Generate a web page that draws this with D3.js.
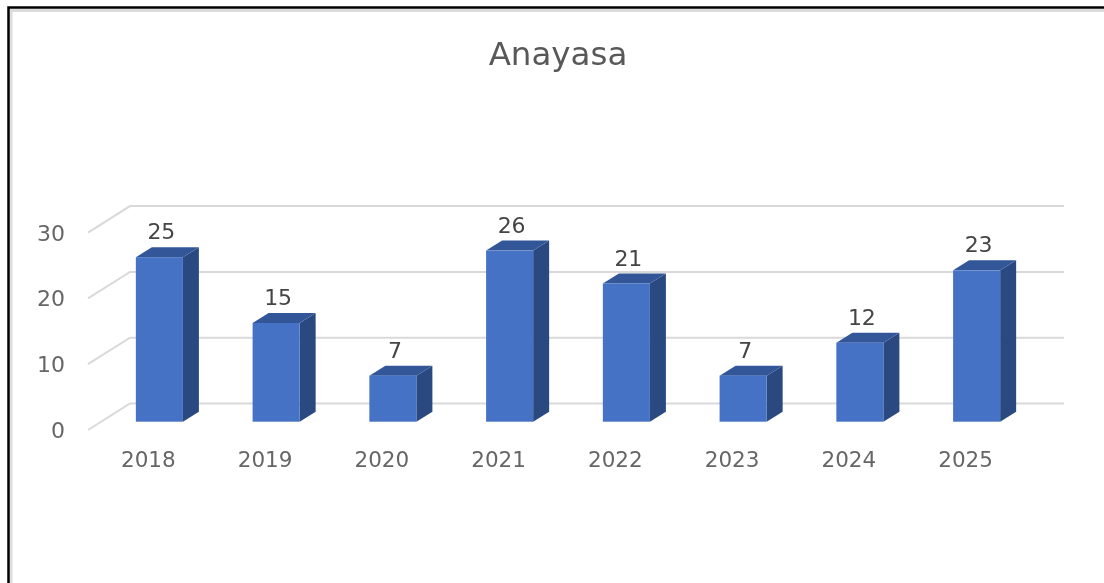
<!DOCTYPE html>
<html>
<head>
<meta charset="utf-8">
<style>
    html, body { margin: 0; padding: 0; background: #fff; overflow: hidden; }
    svg { display: block; }
    text { font-family: "DejaVu Sans", sans-serif; }
    .y-axis text { font-size: 22px; fill: #666; }
    .x-axis text { font-size: 21.5px; fill: #666; }
    .value { font-size: 22px; fill: #444; text-anchor: middle; }
    .title { font-size: 32.5px; fill: #595959; text-anchor: middle; }
</style>
<script src="https://cdn.jsdelivr.net/npm/d3@7"></script>
</head>
<body>
<script>
    // values
    const years = ["2018", "2019", "2020", "2021", "2022", "2023", "2024", "2025"];
    const counts = [25, 15, 7, 26, 21, 7, 12, 23];
    const yTicks = [0, 10, 20, 30];

    const width = 1104, height = 583;

    // oblique 3d offsets: floor depth, bar position in it, bar depth
    const wall = {dx: 42, dy: -26.5};
    const barPos = {dx: 13, dy: -8.3};
    const barDepth = {dx: 16, dy: -10};

    const x = d3.scaleBand().domain(years).range([88, 1022])
        .paddingInner(0.597).paddingOuter(0.2985);
    const y = d3.scaleLinear().domain([0, 30]).range([430, 232.6]);

    const svg = d3.select("body").append("svg")
        .attr("width", width)
        .attr("height", height);

    const defs = svg.append("defs");
    defs.append("filter").attr("id", "soft")
        .append("feGaussianBlur").attr("stdDeviation", 0.45);

    // frame of the screenshot
    svg.append("path")
        .attr("d", `M11,${height}V10.5H${width}`)
        .attr("fill", "none").attr("stroke", "#dcdcdc").attr("stroke-width", 3);
    svg.append("path")
        .attr("d", `M8.5,${height}V7.5H${width}`)
        .attr("fill", "none").attr("stroke", "#000").attr("stroke-width", 2.5);

    const chart = svg.append("g").attr("filter", "url(#soft)");

    chart.append("text").attr("class", "title")
        .attr("x", 558).attr("y", 65)
        .text("Anayasa");

    // gridlines, going back along the floor then across the wall
    const left = x.range()[0], right = x.range()[1];
    chart.append("g").selectAll("path")
        .data(yTicks)
        .join("path")
        .attr("d", d => `M${left},${y(d)}L${left + wall.dx},${y(d) + wall.dy}H${right + wall.dx}`)
        .attr("fill", "none")
        .attr("stroke", "#d9d9d9")
        .attr("stroke-width", 2);

    const yAxis = d3.axisLeft(y).tickValues(yTicks).tickSize(0).tickPadding(0);
    chart.append("g").attr("class", "y-axis")
        .attr("transform", "translate(65,0.5)")
        .call(yAxis)
        .call(g => g.select(".domain").remove());

    const xAxis = d3.axisBottom(x).tickSize(0).tickPadding(0);
    chart.append("g").attr("class", "x-axis")
        .attr("transform", "translate(2,452)")
        .call(xAxis)
        .call(g => g.select(".domain").remove());

    const bars = chart.append("g").selectAll("g")
        .data(years.map((year, i) => ({year, value: counts[i]})))
        .join("g")
        .attr("transform", `translate(${barPos.dx},${barPos.dy})`);

    const w = x.bandwidth();

    // right side
    bars.append("path")
        .attr("d", d => {
            const x1 = x(d.year) + w;
            return `M${x1},${y(d.value)}l${barDepth.dx},${barDepth.dy}V${y(0) + barDepth.dy}L${x1},${y(0)}Z`;
        })
        .attr("fill", "#2a4a80");

    // top
    bars.append("path")
        .attr("d", d => {
            const x0 = x(d.year);
            return `M${x0},${y(d.value)}l${barDepth.dx},${barDepth.dy}h${w}l${-barDepth.dx},${-barDepth.dy}Z`;
        })
        .attr("fill", "#325797");

    // front
    bars.append("rect")
        .attr("x", d => x(d.year))
        .attr("y", d => y(d.value))
        .attr("width", w)
        .attr("height", d => y(0) - y(d.value))
        .attr("fill", "#4472c4");

    bars.append("text").attr("class", "value")
        .attr("x", d => x(d.year) + w / 2 + 2)
        .attr("y", d => y(d.value) - 18)
        .text(d => d.value);
</script>
</body>
</html>
